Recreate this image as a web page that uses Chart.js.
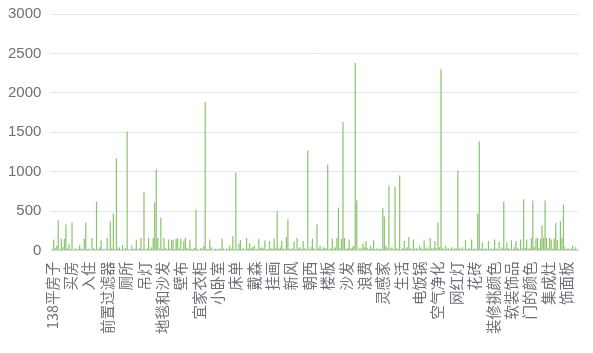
<!DOCTYPE html>
<html>
<head>
<meta charset="utf-8">
<script src="https://cdn.jsdelivr.net/npm/chart.js@4.4.0/dist/chart.umd.min.js"></script>
<style>
  html, body { margin: 0; padding: 0; background: #fff; }
  #wrap { width: 593px; height: 353px; }
</style>
</head>
<body>
<div id="wrap"><canvas id="myChart" width="593" height="353"></canvas></div>
<script>
// only every 12th category name is printed on the axis
const STEP = 12;
const tickLabels = [
  '138平房子', '买房', '入住', '前置过滤器', '厕所', '吊灯', '地毯和沙发', '壁布',
  '宜家衣柜', '小卧室', '床单', '戴森', '挂画', '新风', '朝西', '楼板', '沙发',
  '浪费', '灵感家', '生活', '电饭锅', '空气净化', '网红灯', '花砖', '装修挑颜色',
  '软装饰品', '门的颜色', '集成灶', '饰面板'
];

// one row per labelled group of 12 bars
const counts = [
  15, 140, 30, 60, 380, 20, 150, 40, 150, 330, 25, 80,
  20, 355, 10, 30, 15, 20, 70, 25, 15, 150, 355, 20,
  25, 10, 160, 30, 20, 620, 15, 40, 130, 20, 10, 25,
  160, 20, 370, 30, 470, 15, 1170, 25, 40, 10, 70, 20,
  30, 1510, 15, 10, 60, 20, 25, 130, 15, 30, 160, 20,
  740, 15, 30, 160, 20, 40, 160, 610, 1030, 160, 25, 420,
  20, 160, 30, 15, 140, 25, 130, 140, 20, 150, 160, 30,
  150, 20, 120, 160, 30, 25, 140, 15, 20, 35, 520, 20,
  10, 30, 25, 60, 1880, 20, 15, 140, 40, 10, 25, 20,
  15, 30, 20, 150, 25, 10, 30, 20, 60, 25, 180, 20,
  990, 15, 90, 130, 20, 30, 10, 160, 25, 90, 30, 40,
  60, 15, 20, 150, 30, 40, 25, 130, 15, 20, 120, 30,
  20, 150, 30, 500, 25, 40, 120, 30, 20, 170, 395, 25,
  15, 30, 110, 20, 160, 25, 40, 20, 120, 30, 15, 1270,
  20, 40, 150, 30, 15, 330, 25, 60, 20, 40, 30, 25,
  1090, 20, 30, 150, 25, 40, 160, 545, 30, 150, 1630, 160,
  20, 30, 140, 25, 40, 60, 2380, 635, 15, 30, 25, 90,
  40, 120, 30, 20, 60, 25, 130, 20, 30, 15, 25, 20,
  535, 430, 60, 30, 825, 25, 40, 20, 810, 30, 20, 950,
  15, 30, 120, 25, 40, 170, 30, 20, 140, 25, 30, 15,
  60, 30, 20, 130, 25, 40, 20, 160, 30, 25, 120, 30,
  355, 40, 2300, 30, 20, 60, 25, 30, 20, 40, 15, 30,
  25, 1015, 30, 20, 40, 15, 130, 20, 30, 25, 140, 20,
  30, 20, 470, 1385, 25, 100, 20, 30, 15, 120, 20, 25,
  20, 140, 30, 15, 110, 20, 40, 620, 25, 100, 30, 20,
  130, 20, 40, 120, 30, 20, 140, 25, 650, 30, 140, 20,
  30, 160, 635, 40, 150, 160, 30, 150, 320, 160, 635, 160,
  30, 160, 140, 25, 150, 345, 130, 20, 370, 160, 585, 40,
  20, 30, 15, 25, 60, 20, 40, 15
];

const yMax = 3000;
const yStep = 500;

const labels = counts.map((v, i) => i % STEP === 0 ? tickLabels[i / STEP] : '');

const data = {
  labels: labels,
  datasets: [{
    data: counts,
    backgroundColor: '#8cc46e',
    barPercentage: 0.8,
    categoryPercentage: 1
  }]
};

const config = {
  type: 'bar',
  data: data,
  options: {
    responsive: false,
    animation: false,
    layout: { padding: { left: 3, right: 15, top: 11, bottom: 8 } },
    plugins: {
      legend: { display: false },
      tooltip: { enabled: false }
    },
    scales: {
      x: {
        grid: { display: false, drawTicks: false },
        border: { color: '#d8d8d8' },
        // last label is blank, so it needs no room on the right
        afterFit: scale => { scale.paddingRight = 0; },
        ticks: {
          autoSkip: false,
          minRotation: 90,
          maxRotation: 90,
          padding: 11,
          color: '#6E7079',
          font: { family: 'Noto Sans CJK SC', size: 14.5 }
        }
      },
      y: {
        min: 0,
        max: yMax,
        // invisible tick marks just push the labels away from the plot
        grid: { color: '#E0E6F1', tickLength: 5, tickColor: 'rgba(0,0,0,0)' },
        border: { display: false },
        ticks: {
          stepSize: yStep,
          padding: 5,
          color: '#6E7079',
          font: { family: 'Liberation Sans', size: 15 },
          callback: v => String(v)
        }
      }
    }
  }
};

new Chart(document.getElementById('myChart'), config);
</script>
</body>
</html>
